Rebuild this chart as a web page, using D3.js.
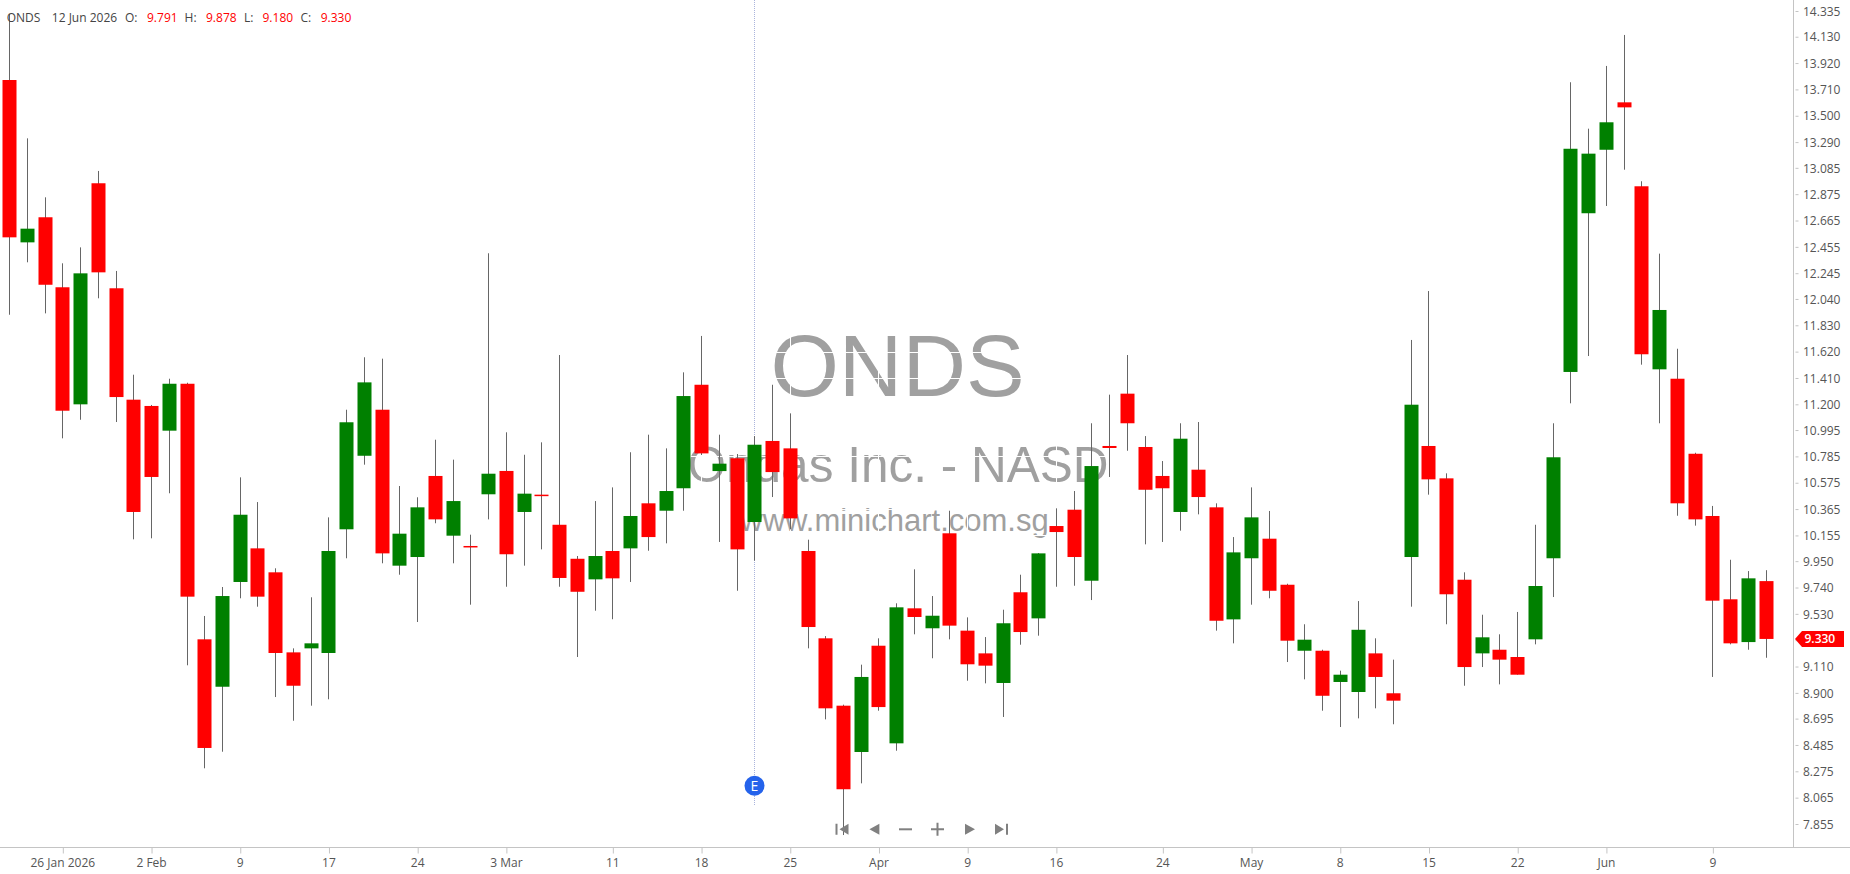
<!DOCTYPE html>
<html><head><meta charset="utf-8">
<script src="https://cdn.jsdelivr.net/npm/d3@7/dist/d3.min.js"></script>
<style>
html,body{margin:0;padding:0;background:#fff;overflow:hidden}
svg{display:block}
text{font-family:"Open Sans",sans-serif}
.axis path{display:none}
.axis text{font-family:"Open Sans",sans-serif;font-size:12px;fill:#555}
.axis line{stroke:#c4c4c4}
</style></head><body>
<svg id="c" width="1850" height="874"></svg>
<script>
const symbol = "ONDS";
const quoteDate = "12 Jun 2026";
const opens = [13.785,12.491,12.691,12.133,11.200,12.962,12.125,11.237,11.187,10.990,
11.364,9.327,8.949,9.784,10.052,9.861,9.223,9.255,9.218,10.204,
10.790,11.157,9.914,9.983,10.629,10.153,10.071,10.483,10.669,10.342,
10.480,10.240,9.969,9.805,10.031,10.052,10.411,10.352,10.531,11.356,
10.668,10.770,10.262,10.908,10.849,10.031,9.335,8.798,8.429,9.276,
8.498,9.574,9.415,10.172,9.396,9.215,8.979,9.702,9.494,10.230,
10.360,9.794,10.868,11.285,10.860,10.629,10.342,10.679,10.379,9.486,
9.973,10.129,9.762,9.236,9.236,8.987,8.907,9.215,8.897,9.983,
10.868,10.610,9.802,9.215,9.244,9.186,9.327,9.973,11.458,12.723,
13.229,13.607,12.938,11.479,11.404,10.806,10.310,9.646,9.305,9.791];
const highs = [14.311,13.320,12.850,12.324,12.451,13.060,12.263,11.436,11.195,11.404,
11.372,9.513,9.744,10.618,10.421,9.893,9.255,9.662,10.299,11.157,
11.575,11.564,10.549,10.459,10.918,10.759,10.161,12.404,10.977,10.798,
10.897,11.593,9.991,10.429,10.538,10.818,10.958,10.849,11.455,11.745,
10.958,10.804,10.947,11.356,11.128,10.121,9.353,8.806,9.125,9.335,
9.614,9.885,9.672,10.352,9.502,9.345,9.563,9.842,10.015,10.371,
10.509,11.049,11.277,11.593,10.947,10.748,11.049,11.059,10.411,10.142,
10.538,10.350,9.770,9.447,9.244,9.077,9.632,9.335,9.165,11.713,
12.103,10.650,9.861,9.523,9.367,9.545,10.240,11.049,13.767,13.397,
13.897,14.144,12.978,12.401,11.643,10.814,10.390,9.961,9.871,9.878];
const lows = [11.914,12.332,11.925,10.929,11.077,12.045,11.059,10.124,10.132,10.491,
9.120,8.299,8.431,9.654,9.587,8.867,8.678,8.798,8.849,9.973,
10.719,9.933,9.842,9.465,10.252,9.933,9.603,10.283,9.746,9.914,
10.044,9.746,9.186,9.555,9.487,9.784,10.033,10.092,10.352,10.796,
10.103,9.714,9.954,10.461,10.204,9.255,8.689,7.767,8.179,8.758,
8.439,9.367,9.176,9.327,8.997,8.976,8.708,9.284,9.356,9.746,
9.754,9.640,10.621,10.830,10.084,10.103,10.193,10.323,9.396,9.295,
9.603,9.654,9.146,9.008,8.758,8.628,8.697,8.777,8.650,9.587,
10.480,9.447,8.957,9.106,8.968,9.045,9.287,9.664,11.208,11.585,
12.781,13.070,11.516,11.049,10.312,10.233,9.027,9.287,9.244,9.180];
const closes = [12.531,12.600,12.153,11.149,12.244,12.252,11.258,10.342,10.621,11.364,
9.667,8.461,9.672,10.320,9.667,9.218,8.957,9.295,10.031,11.057,
11.375,10.012,10.169,10.379,10.283,10.429,10.063,10.647,10.005,10.488,
10.472,9.816,9.706,9.991,9.813,10.310,10.142,10.509,11.266,10.809,
10.727,10.044,10.878,10.660,10.291,9.425,8.777,8.132,9.027,8.787,
9.582,9.505,9.515,9.436,9.128,9.117,9.455,9.385,10.012,10.182,
9.983,10.708,10.852,11.049,10.519,10.531,10.926,10.461,9.475,10.020,
10.299,9.714,9.316,9.324,8.877,9.045,9.403,9.027,8.838,11.197,
10.602,9.686,9.106,9.343,9.165,9.045,9.752,10.778,13.237,13.198,
13.448,13.567,11.599,11.952,10.411,10.283,9.635,9.295,9.813,9.330];
const priceTicks = [14.335,14.130,13.920,13.710,13.500,13.290,13.085,12.875,12.665,12.455,12.245,12.040,11.830,11.620,11.410,11.200,10.995,10.785,10.575,10.365,10.155,9.950,9.740,9.530,9.320,9.110,8.900,8.695,8.485,8.275,8.065,7.855];
const dateTickIndex = [3,8,13,18,23,28,34,39,44,49,54,59,65,70,75,80,85,90,96];
const dateTickLabels = ["26 Jan 2026","2 Feb","9","17","24","3 Mar","11","18","25","Apr","9","16","24","May","8","15","22","Jun","9"];
const watermarkLines = ["ONDS","Ondas Inc. - NASD","www.minichart.com.sg"];
const earningsIndex = 42;

const n = opens.length;
const W = 1850, H = 874, plotR = 1793.5, plotB = 847;
const x = d3.scaleLinear().domain([0, n - 1]).range([9.1, 1765.6]);
const y = d3.scaleLinear().domain([7.855, 14.335]).range([824, 11]);
const RED = "#ff0000", GREEN = "#008000";
const svg = d3.select("#c");

// watermark
const wm = svg.append("g").attr("fill", "#a0a0a0").attr("text-anchor", "middle");
wm.append("text").attr("x", 897.5).attr("y", 396).attr("font-size", 88).style("font-family","'Liberation Sans'").text(watermarkLines[0]);
wm.append("text").attr("x", 898).attr("y", 481.5).attr("font-size", 49.5).style("font-family","'Liberation Sans'").text(watermarkLines[1]);
wm.append("text").attr("x", 894.5).attr("y", 531).attr("font-size", 31).style("font-family","'Liberation Sans'").text(watermarkLines[2]);

// white grid over the watermark
const grid = svg.append("g").attr("stroke", "#fff").attr("stroke-width", 1);
grid.selectAll(".h").data(priceTicks).join("line")
  .attr("x1", 0).attr("x2", plotR)
  .attr("y1", d => Math.round(y(d)) + .5).attr("y2", d => Math.round(y(d)) + .5);
grid.selectAll(".v").data(dateTickIndex).join("line")
  .attr("y1", 0).attr("y2", plotB)
  .attr("x1", d => Math.round(x(d)) + .5).attr("x2", d => Math.round(x(d)) + .5);

// earnings marker line
const ex = Math.round(x(earningsIndex)) + .5;
svg.append("line").attr("x1", ex).attr("x2", ex).attr("y1", 0).attr("y2", 806)
  .attr("stroke", "#aab4dc").attr("stroke-width", 1).attr("stroke-dasharray", "1 1");

// candles
const idx = d3.range(n);
const candles = svg.append("g");
candles.selectAll("line").data(idx).join("line")
  .attr("x1", i => Math.round(x(i)) + .5).attr("x2", i => Math.round(x(i)) + .5)
  .attr("y1", i => y(highs[i])).attr("y2", i => y(lows[i]))
  .attr("stroke", "#666").attr("stroke-width", 1);
candles.selectAll("rect").data(idx).join("rect")
  .attr("x", i => Math.round(x(i)) - 6.5)
  .attr("width", 14)
  .attr("y", i => Math.min(y(opens[i]), y(closes[i])))
  .attr("height", i => Math.max(1.5, Math.abs(y(opens[i]) - y(closes[i]))))
  .attr("fill", i => closes[i] >= opens[i] ? GREEN : RED);

// earnings badge
svg.append("circle").attr("cx", ex).attr("cy", 785.7).attr("r", 10).attr("fill", "#2563eb");
svg.append("text").attr("x", ex).attr("y", 790.7).attr("text-anchor", "middle")
  .attr("font-size", 14).attr("fill", "#fff").text("E");

// axes
const yAxis = d3.axisRight(y).tickValues(priceTicks).tickFormat(d3.format(".3f")).tickSize(3).tickPadding(6);
const gy = svg.append("g").attr("class", "axis").attr("transform", `translate(${plotR + 2},0)`).call(yAxis);
gy.selectAll("text").attr("x", 7.5).attr("dy", ".35em").attr("fill", "#555");
svg.append("line").attr("x1", plotR).attr("x2", plotR).attr("y1", 0).attr("y2", plotB).attr("stroke", "#c4c4c4");

const xAxis = d3.axisBottom(x).tickValues(dateTickIndex)
  .tickFormat((d, i) => dateTickLabels[i]).tickSize(6).tickPadding(5);
const gx = svg.append("g").attr("class", "axis").attr("transform", `translate(0,${plotB + .5})`).call(xAxis);
gx.selectAll(".tick line").attr("x1", 0.5).attr("x2", 0.5);
svg.append("line").attr("x1", 0).attr("x2", W).attr("y1", plotB + .5).attr("y2", plotB + .5).attr("stroke", "#c4c4c4");

// last price tag
const last = closes[n - 1], ly = y(last);
svg.append("path").attr("fill", RED)
  .attr("d", d3.line()([[1795, ly], [1802, ly - 8], [1844, ly - 8], [1844, ly + 8], [1802, ly + 8]]) + "Z");
svg.append("text").attr("x", 1804.5).attr("y", ly + 4.3).attr("font-size", 12).attr("font-weight", 600)
  .attr("fill", "#fff").text(d3.format(".3f")(last));

// header
const ohlc = [["O:", opens[n-1], 125, 147], ["H:", highs[n-1], 184.6, 206], ["L:", lows[n-1], 244, 262.5], ["C:", closes[n-1], 300.5, 320.7]];
const hdr = svg.append("g").attr("font-size", 12).attr("fill", "#444");
hdr.append("text").attr("x", 6.7).attr("y", 22).text(symbol);
hdr.append("text").attr("x", 51.8).attr("y", 22).text(quoteDate);
ohlc.forEach(([k, v, kx, vx]) => {
  hdr.append("text").attr("x", kx).attr("y", 22).text(k);
  hdr.append("text").attr("x", vx).attr("y", 22).attr("fill", RED).text(d3.format(".3f")(v));
});

// navigation icons
const nav = svg.append("g").attr("fill", "#808080").attr("stroke", "none").attr("transform", "translate(0,829.3)");
nav.append("path").attr("d", "M835.5-5.5h2v11h-2zM848.5-5.5v11l-9-5.5z");
nav.append("path").attr("d", "M879.4-5.5v11l-10-5.5z");
nav.append("path").attr("d", "M899-1h13v2h-13z");
nav.append("path").attr("d", "M931-1h5.5v-5.5h2v5.5h5.5v2h-5.5v5.5h-2v-5.5h-5.5z");
nav.append("path").attr("d", "M965-5.5v11l10-5.5z");
nav.append("path").attr("d", "M995-5.5v11l9-5.5zM1006-5.5h2v11h-2z");
</script>
</body></html>
